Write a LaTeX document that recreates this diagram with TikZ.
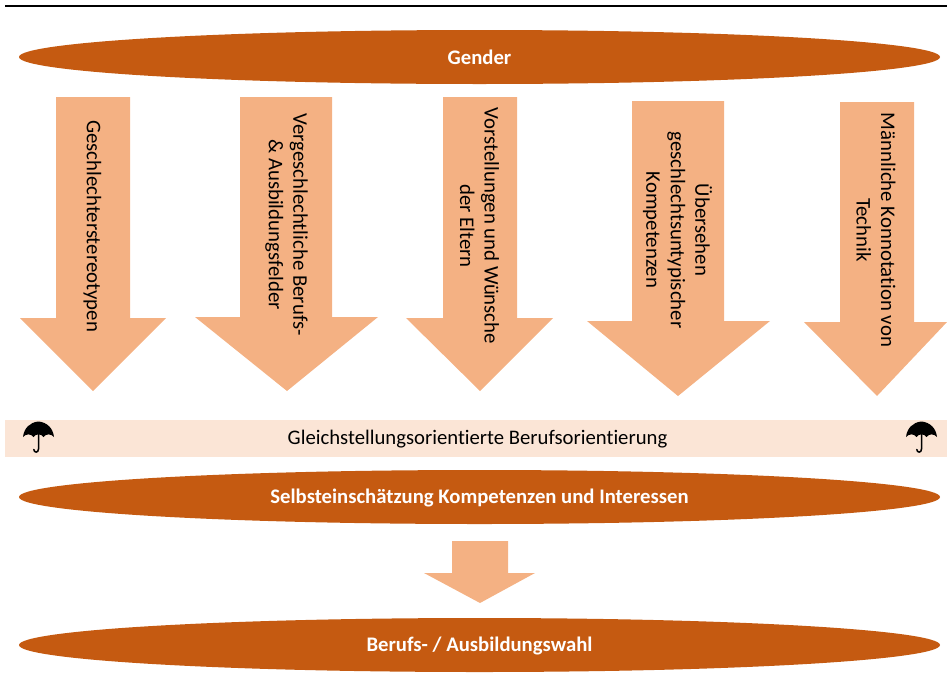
\documentclass[tikz,border=0pt]{standalone}
\usepackage{fontspec}
\setmainfont{Carlito}[RawFeature=-liga]
\definecolor{dk}{HTML}{C55A11}
\definecolor{lt}{HTML}{F4B183}
\definecolor{band}{HTML}{FBE5D6}
\tikzset{
  x=1pt,y=-1pt,
  oval/.style={ellipse,fill=dk,text=white,inner sep=0pt,minimum width=921pt,minimum height=54pt,font=\fontsize{20.7}{25}\selectfont\bfseries},
  vtext/.style={rotate=-90,align=center,inner sep=0pt,font=\fontsize{20.8}{24.5}\selectfont},
  arrowfill/.style={fill=lt}
}
\usetikzlibrary{shapes.geometric}
% left shaft, right shaft, top, neck, head left, head right, tip x, tip y
\newcommand{\downarrowshape}[8]{\path[arrowfill] (#1,#3) -- (#2,#3) -- (#2,#4) -- (#6,#4) -- (#7,#8) -- (#5,#4) -- (#1,#4) -- cycle;}
\newcommand{\umbrellashape}[1]{%
  \begin{scope}[shift={(#1,0)}]
    \fill (0,421.5) -- (0.8,421.5) .. controls (9,422.5) and (15,428) .. (16,437)
      .. controls (13,433.5) and (8,433.5) .. (5.5,437)
      .. controls (3.5,433.5) and (-2.5,433.5) .. (-4.5,437)
      .. controls (-7,433.5) and (-12,433.5) .. (-15,437)
      .. controls (-14,428) and (-8,422.5) .. (0,421.5) -- cycle;
    \draw[line width=1.5pt,line cap=round] (0.5,432) -- (0.5,449) .. controls (0.5,453) and (-4,453) .. (-4.2,449.5);
  \end{scope}}
\begin{document}
\begin{tikzpicture}
\useasboundingbox (0,0) rectangle (947,691);
\draw[line width=2pt] (5,6) -- (947,6);
\node[oval] (gender) at (479.5,57) {Gender};
\downarrowshape{56}{130}{97}{318}{20}{166}{93}{391}
\downarrowshape{240}{332}{97}{317}{195}{378}{287}{391}
\downarrowshape{443}{517}{97}{318}{406}{553}{480}{391}
\downarrowshape{632}{724}{101}{321}{587}{770}{678}{396}
\downarrowshape{840}{914}{102}{322}{804}{947}{877}{396}
\node[vtext] (a1) at (92.5,226) {Geschlechterstereotypen};
\node[vtext] (a2) at (286.5,224.5) {Vergeschlechtliche Berufs-\\\& Ausbildungsfelder};
\node[vtext] (a3) at (479.5,226) {Vorstellungen und Wünsche\\der Eltern};
\node[vtext] (a4) at (677.5,230) {Übersehen\\geschlechtsuntypischer\\Kompetenzen};
\node[vtext] (a5) at (876,230) {Männliche Konnotation von\\Technik};
\fill[band] (5,420) rectangle (947,457);
\node[inner sep=0pt,font=\fontsize{20.7}{25}\selectfont] (band) at (477.5,439.5) {Gleichstellungsorientierte Berufsorientierung};
\umbrellashape{38}
\umbrellashape{921}
\node[oval,text depth=0pt] (selbst) at (479.5,497) {};
\node[text=white,inner sep=0pt,font=\fontsize{20.7}{25}\selectfont\bfseries] (selbstlabel) at (479.5,497.5) {Selbsteinschätzung Kompetenzen und Interessen};
\downarrowshape{452}{508}{541}{573}{424}{535}{480}{603}
\node[oval] (wahl) at (479.5,645) {};
\node[text=white,inner sep=0pt,font=\fontsize{20.7}{25}\selectfont\bfseries] (wahllabel) at (479.5,646) {Berufs- / Ausbildungswahl};
\end{tikzpicture}
\end{document}
